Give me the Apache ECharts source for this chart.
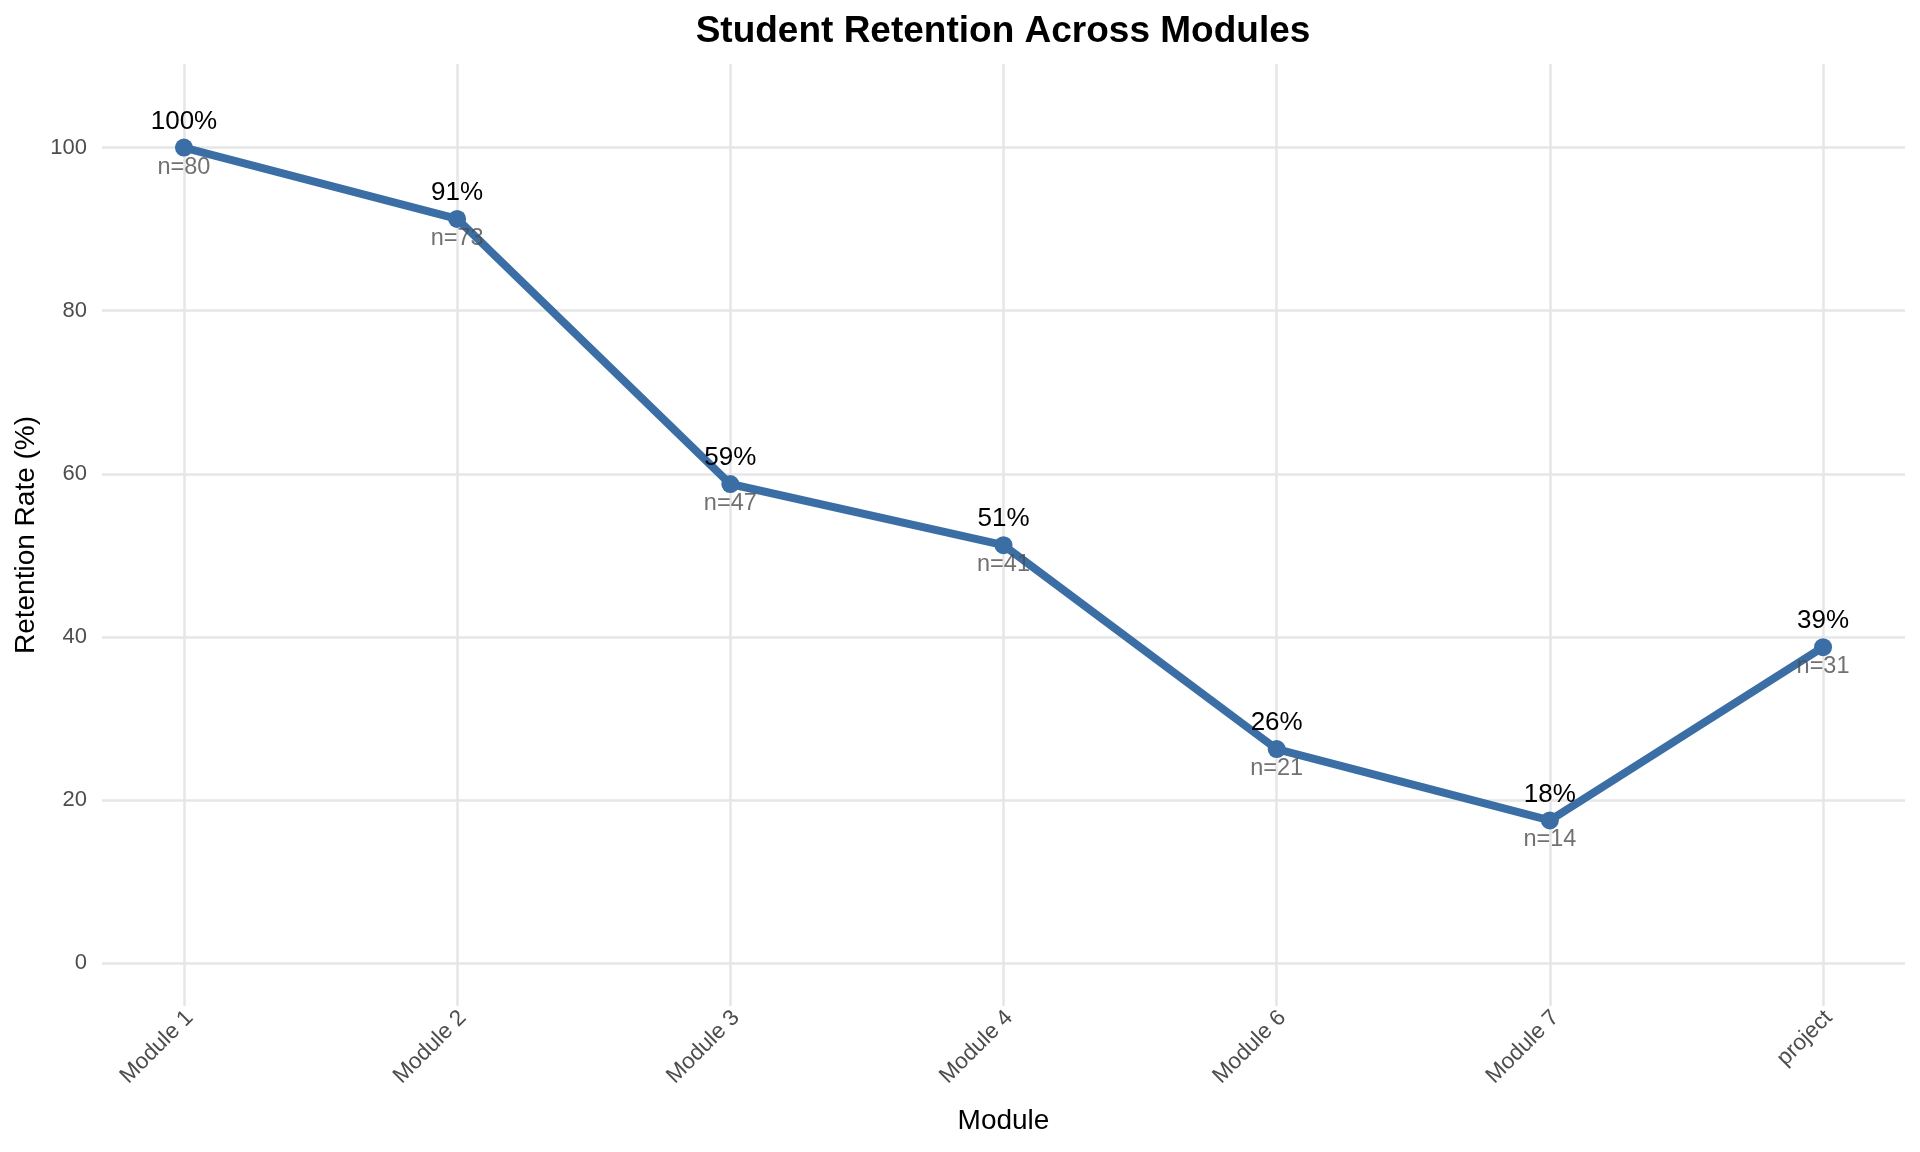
<!DOCTYPE html>
<html>
<head>
<meta charset="utf-8">
<style>
  html, body { margin: 0; padding: 0; background: #ffffff; }
  #chart { width: 1920px; height: 1152px; }
</style>
<script src="https://cdn.jsdelivr.net/npm/echarts@6/dist/echarts.min.js"></script>
</head>
<body>
<div id="chart"></div>
<script>
const categories = ['Module 1', 'Module 2', 'Module 3', 'Module 4', 'Module 6', 'Module 7', 'project'];
const retention = [100, 91.25, 58.75, 51.25, 26.25, 17.5, 38.75];
const counts = [80, 73, 47, 41, 21, 14, 31];
const pctLabels = ['100%', '91%', '59%', '51%', '26%', '18%', '39%'];
const yTicks = [0, 20, 40, 60, 80, 100];
const xTicks = [0, 1, 2, 3, 4, 5, 6];

const FONT = "'Liberation Sans', Arial, Helvetica, sans-serif";
const GRID_COLOR = '#e6e6e6';
const LINE_COLOR = '#3a6ea5';

const lineData = retention.map((v, i) => [i, v]);

const chart = echarts.init(document.getElementById('chart'), null, { renderer: 'canvas' });
chart.setOption({
  animation: false,
  backgroundColor: '#ffffff',
  textStyle: { fontFamily: FONT },
  title: {
    text: 'Student Retention Across Modules',
    left: 998,
    top: 8,
    textAlign: 'center',
    textStyle: { fontFamily: FONT, fontSize: 37, fontWeight: 'bold', color: '#000000' }
  },
  grid: { left: 102, right: 15, top: 64, bottom: 146, containLabel: false },
  xAxis: {
    type: 'value',
    min: -0.3,
    max: 6.3,
    name: 'Module',
    nameLocation: 'middle',
    nameGap: 101,
    nameMoveOverlap: false,
    nameTextStyle: { fontFamily: FONT, fontSize: 28, color: '#000000' },
    axisLine: { show: false },
    axisTick: { show: false, customValues: xTicks },
    axisLabel: {
      customValues: xTicks,
      rotate: 45,
      margin: 14,
      padding: [0, -8, 0, 0],
      fontFamily: FONT,
      fontSize: 22.5,
      color: '#4d4d4d',
      formatter: function (v) { return categories[Math.round(v)]; }
    },
    splitLine: { show: true, lineStyle: { color: GRID_COLOR, width: 2.5 } }
  },
  yAxis: {
    type: 'value',
    min: -5.25,
    max: 110.25,
    name: 'Retention Rate (%)',
    nameLocation: 'middle',
    nameGap: 62,
    nameMoveOverlap: false,
    nameTextStyle: { fontFamily: FONT, fontSize: 28, color: '#000000' },
    axisLine: { show: false },
    axisTick: { show: false, customValues: yTicks },
    axisLabel: {
      customValues: yTicks,
      margin: 15,
      fontFamily: FONT,
      fontSize: 22,
      color: '#4d4d4d'
    },
    splitLine: { show: true, lineStyle: { color: GRID_COLOR, width: 2.5 } }
  },
  series: [
    {
      type: 'line',
      data: lineData,
      symbol: 'circle',
      symbolSize: 18,
      lineStyle: { color: LINE_COLOR, width: 8 },
      itemStyle: { color: LINE_COLOR },
      label: {
        show: true,
        position: 'top',
        distance: 4,
        fontFamily: FONT,
        fontSize: 26,
        color: '#000000',
        formatter: function (p) { return pctLabels[p.dataIndex]; }
      },
      z: 3
    },
    {
      type: 'scatter',
      data: lineData,
      symbolSize: 1,
      silent: true,
      itemStyle: { color: 'rgba(0,0,0,0)' },
      label: {
        show: true,
        position: 'bottom',
        distance: 7,
        fontFamily: FONT,
        fontSize: 23.5,
        color: '#4d4d4d',
        formatter: function (p) { return 'n=' + counts[p.dataIndex]; }
      },
      z: 5
    }
  ]
});
</script>
</body>
</html>
